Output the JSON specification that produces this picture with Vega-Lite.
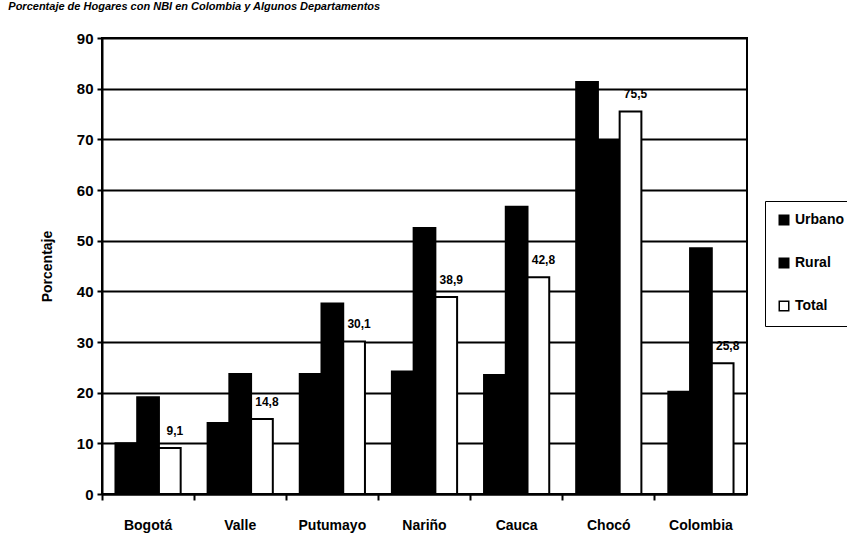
{
  "$schema": "https://vega.github.io/schema/vega-lite/v6.json",
  "width": 645,
  "height": 456,
  "autosize": {"type": "none"},
  "padding": {"left": 102, "top": 38, "right": 100, "bottom": 52},
  "background": "white",
  "config": {
    "font": "Liberation Sans",
    "view": {"stroke": "black", "strokeWidth": 2}
  },
  "title": {
    "text": "Porcentaje de Hogares con NBI en Colombia y Algunos Departamentos",
    "anchor": "start",
    "dx": -32,
    "offset": 19,
    "fontSize": 11,
    "fontStyle": "italic",
    "fontWeight": "bold",
    "font": "Liberation Sans",
    "color": "black"
  },
  "data": {
    "values": [
      {"region": "Bogotá", "zona": "Urbano", "valor": 10.0},
      {"region": "Bogotá", "zona": "Rural", "valor": 19.1},
      {"region": "Bogotá", "zona": "Total", "valor": 9.1, "etiqueta": "9,1"},
      {"region": "Valle", "zona": "Urbano", "valor": 14.0},
      {"region": "Valle", "zona": "Rural", "valor": 23.7},
      {"region": "Valle", "zona": "Total", "valor": 14.8, "etiqueta": "14,8"},
      {"region": "Putumayo", "zona": "Urbano", "valor": 23.7},
      {"region": "Putumayo", "zona": "Rural", "valor": 37.6},
      {"region": "Putumayo", "zona": "Total", "valor": 30.1, "etiqueta": "30,1"},
      {"region": "Nariño", "zona": "Urbano", "valor": 24.2},
      {"region": "Nariño", "zona": "Rural", "valor": 52.5},
      {"region": "Nariño", "zona": "Total", "valor": 38.9, "etiqueta": "38,9"},
      {"region": "Cauca", "zona": "Urbano", "valor": 23.5},
      {"region": "Cauca", "zona": "Rural", "valor": 56.7},
      {"region": "Cauca", "zona": "Total", "valor": 42.8, "etiqueta": "42,8"},
      {"region": "Chocó", "zona": "Urbano", "valor": 81.3},
      {"region": "Chocó", "zona": "Rural", "valor": 69.8},
      {"region": "Chocó", "zona": "Total", "valor": 75.5, "etiqueta": "75,5"},
      {"region": "Colombia", "zona": "Urbano", "valor": 20.2},
      {"region": "Colombia", "zona": "Rural", "valor": 48.5},
      {"region": "Colombia", "zona": "Total", "valor": 25.8, "etiqueta": "25,8"}
    ]
  },
  "encoding": {
    "x": {
      "field": "region",
      "type": "nominal",
      "sort": ["Bogotá", "Valle", "Putumayo", "Nariño", "Cauca", "Chocó", "Colombia"],
      "scale": {"paddingInner": 0, "paddingOuter": 0},
      "axis": {
        "title": null,
        "labelAngle": 0,
        "labelFont": "Liberation Sans",
        "labelFontSize": 14,
        "labelFontWeight": "bold",
        "labelColor": "black",
        "labelPadding": 18,
        "bandPosition": 0,
        "ticks": true,
        "tickSize": 6,
        "tickColor": "black",
        "tickWidth": 2,
        "domainColor": "black",
        "domainWidth": 2,
        "grid": false
      }
    },
    "xOffset": {
      "field": "zona",
      "type": "nominal",
      "sort": ["Urbano", "Rural", "Total"],
      "scale": {"paddingInner": 0, "paddingOuter": 0.62}
    },
    "y": {
      "field": "valor",
      "type": "quantitative",
      "scale": {"domain": [0, 90], "nice": false},
      "axis": {
        "title": "Porcentaje",
        "titleFont": "Liberation Sans",
        "titleFontSize": 14,
        "titleFontWeight": "bold",
        "titleColor": "black",
        "titlePadding": 22,
        "values": [0, 10, 20, 30, 40, 50, 60, 70, 80, 90],
        "labelFont": "Liberation Sans",
        "labelFontSize": 15,
        "labelFontWeight": "bold",
        "labelColor": "black",
        "labelPadding": 4,
        "tickSize": 5,
        "tickColor": "black",
        "tickWidth": 2,
        "domainColor": "black",
        "domainWidth": 2,
        "grid": true,
        "gridColor": "black",
        "gridWidth": 2,
        "gridOpacity": 1
      }
    }
  },
  "layer": [
    {
      "mark": {"type": "bar", "stroke": "black", "strokeWidth": 2},
      "encoding": {
        "color": {
          "field": "zona",
          "type": "nominal",
          "sort": ["Urbano", "Rural", "Total"],
          "scale": {"domain": ["Urbano", "Rural", "Total"], "range": ["black", "black", "white"]},
          "legend": {
            "title": null,
            "orient": "none",
            "legendX": 663,
            "legendY": 163,
            "direction": "vertical",
            "symbolType": "square",
            "symbolSize": 90,
            "symbolStrokeColor": "black",
            "symbolStrokeWidth": 1.5,
            "labelFont": "Liberation Sans",
            "labelFontSize": 14,
            "labelFontWeight": "bold",
            "labelColor": "black",
            "labelOffset": 4,
            "rowPadding": 27,
            "padding": 12,
            "strokeColor": "black",
            "fillColor": "white"
          }
        }
      }
    },
    {
      "transform": [{"filter": "datum.etiqueta != null"}],
      "mark": {
        "type": "text",
        "baseline": "bottom",
        "align": "center",
        "dx": 5,
        "dy": -10,
        "font": "Liberation Sans",
        "fontSize": 12,
        "fontWeight": "bold",
        "color": "black"
      },
      "encoding": {
        "text": {"field": "etiqueta"}
      }
    }
  ]
}
